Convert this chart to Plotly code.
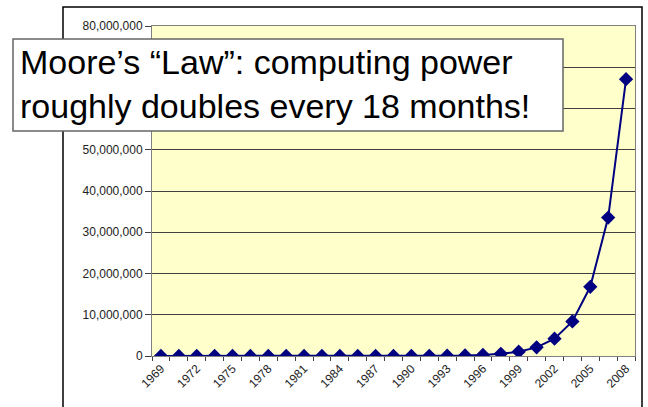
import plotly.graph_objects as go

# one point every 18 months
years = [1969, 1970.5, 1972, 1973.5, 1975, 1976.5, 1978, 1979.5, 1981, 1982.5,
         1984, 1985.5, 1987, 1988.5, 1990, 1991.5, 1993, 1994.5, 1996, 1997.5,
         1999, 2000.5, 2002, 2003.5, 2005, 2006.5, 2008]
power = [1, 2, 4, 8, 16, 32, 64, 128, 256, 512,
         1024, 2048, 4096, 8192, 16384, 32768, 65536, 131072, 262144, 524288,
         1048576, 2097152, 4194304, 8388608, 16777216, 33554432, 67108864]

label_years = [1969, 1972, 1975, 1978, 1981, 1984, 1987, 1990, 1993, 1996,
               1999, 2002, 2005, 2008]
label_text = [str(y) for y in label_years]

# 60M and 70M labels sit behind the callout box in the original
y_ticks = [0, 10000000, 20000000, 30000000, 40000000, 50000000, 60000000,
           70000000, 80000000]
y_text = ["0", "10,000,000", "20,000,000", "30,000,000", "40,000,000",
          "50,000,000", "", "", "80,000,000"]

callout = ["Moore’s “Law”: computing power", "roughly doubles every 18 months!"]

W, H = 648, 407
L, R, T, B = 152, 13, 26, 51
pw, ph = W - L - R, H - T - B
FONT = "Arial, Liberation Sans, sans-serif"


def px(x):
    return (x - L) / pw


def py(y):
    return (H - B - y) / ph


fig = go.Figure(go.Scatter(
    x=years,
    y=power,
    mode="lines+markers",
    line=dict(color="#000080", width=2),
    marker=dict(symbol="diamond", size=11, color="#000080"),
    showlegend=False,
))

fig.update_layout(
    width=W,
    height=H,
    margin=dict(l=L, r=R, t=T, b=B),
    paper_bgcolor="white",
    plot_bgcolor="#FFFFCC",
    font=dict(family=FONT, color="#222222"),
    xaxis=dict(
        range=[1968.25, 2008.75],
        tickmode="array",
        tickvals=label_years,
        ticktext=label_text,
        tickangle=-45,
        tickfont=dict(size=12),
        ticks="",
        showgrid=False,
        zeroline=False,
        showline=True,
        linecolor="#808080",
        mirror=True,
        minor=dict(tickmode="linear", tick0=1968.25, dtick=1.5,
                   ticks="outside", ticklen=4, tickcolor="#404040", showgrid=False),
    ),
    yaxis=dict(
        range=[0, 80000000],
        tickmode="array",
        tickvals=y_ticks,
        ticktext=y_text,
        tickfont=dict(size=12),
        ticks="outside",
        ticklen=6,
        tickcolor="#404040",
        showgrid=True,
        gridcolor="#404040",
        gridwidth=1,
        zeroline=True,
        zerolinecolor="#202020",
        showline=True,
        linecolor="#808080",
        mirror=True,
    ),
    shapes=[
        # outer chart frame
        dict(type="rect", xref="paper", yref="paper",
             x0=px(63), x1=px(642), y0=py(420), y1=py(7),
             line=dict(color="black", width=1.5), fillcolor="rgba(0,0,0,0)",
             layer="below"),
        # callout box
        dict(type="rect", xref="paper", yref="paper",
             x0=px(13), x1=px(563), y0=py(131), y1=py(39),
             line=dict(color="#666666", width=1.5), fillcolor="white",
             layer="above"),
    ],
    annotations=[
        dict(text="<br>".join(callout), xref="paper", yref="paper",
             x=px(18), y=py(84),
             xanchor="left", yanchor="middle", align="left", showarrow=False,
             font=dict(size=34, color="black", family=FONT)),
    ],
)

fig.write_html("out.html", config={"displayModeBar": False},
               post_script="document.body.style.margin='0';")
